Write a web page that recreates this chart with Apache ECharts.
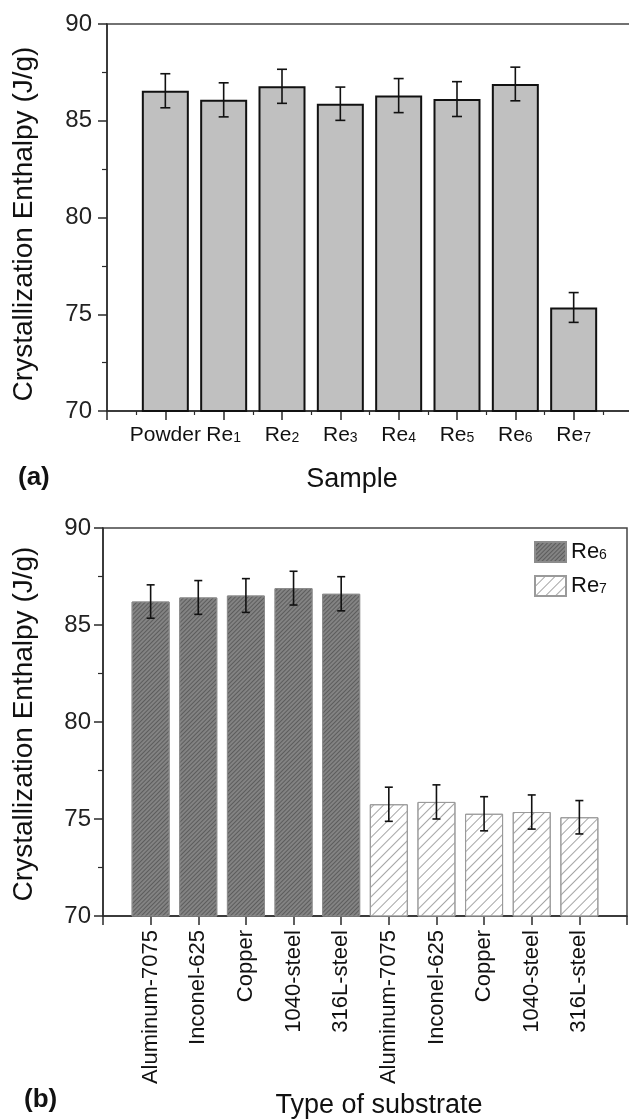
<!DOCTYPE html>
<html>
<head>
<meta charset="utf-8">
<script src="https://cdn.jsdelivr.net/npm/echarts@6/dist/echarts.min.js"></script>
<style>
  html, body { margin: 0; padding: 0; background: #ffffff; overflow: hidden; }
  #chart { width: 629px; height: 1119px; }
</style>
</head>
<body>
<div id="chart"></div>
<script>
// ---------- data: panel (a) ----------
const sampleNames = ['Powder', 'Re1', 'Re2', 'Re3', 'Re4', 'Re5', 'Re6', 'Re7'];
const sampleValues = [86.55, 86.08, 86.78, 85.88, 86.30, 86.12, 86.90, 75.35];
const sampleErrors = [0.88, 0.88, 0.88, 0.86, 0.88, 0.90, 0.87, 0.77];

// ---------- data: panel (b) ----------
const substrates = ['Aluminum-7075', 'Inconel-625', 'Copper', '1040-steel', '316L-steel'];
const re6Values = [86.21, 86.42, 86.52, 86.90, 86.61];
const re6Errors = [0.86, 0.87, 0.87, 0.87, 0.88];
const re7Values = [75.76, 75.88, 75.27, 75.36, 75.09];
const re7Errors = [0.88, 0.88, 0.88, 0.88, 0.86];
const seriesNames = ['Re6', 'Re7'];

// ---------- axis ticks ----------
const yMin = 70, yMax = 90, yStep = 5;

const FONT = '"Liberation Sans", Arial, sans-serif';
const AX = '#2a2a2a';
const subRich = { s: { fontSize: 14, fontFamily: FONT, color: '#111', verticalAlign: 'bottom', padding: [0, 0, 1, 0] } };
function subFmt(name) { return String(name).replace(/^Re(\d)$/, 'Re{s|$1}'); }

function errRender(cap) {
  return function (params, api) {
    const x = api.value(0), v = api.value(1), e = api.value(2);
    const hi = api.coord([x, v + e]);
    const lo = api.coord([x, v - e]);
    const st = { stroke: '#111', lineWidth: 1.6 };
    return {
      type: 'group',
      children: [
        { type: 'line', shape: { x1: hi[0], y1: hi[1], x2: lo[0], y2: lo[1] }, style: st },
        { type: 'line', shape: { x1: hi[0] - cap, y1: hi[1], x2: hi[0] + cap, y2: hi[1] }, style: st },
        { type: 'line', shape: { x1: lo[0] - cap, y1: lo[1], x2: lo[0] + cap, y2: lo[1] }, style: st }
      ]
    };
  };
}

const topData = sampleValues.map((v, i) => [i + 1, v]);
const topErr = sampleValues.map((v, i) => [i + 1, v, sampleErrors[i]]);
const re6Data = re6Values.map((v, i) => [i + 1, v]);
const re7Data = re7Values.map((v, i) => [i + 6, v]);
const re6Err = re6Values.map((v, i) => [i + 1, v, re6Errors[i]]);
const re7Err = re7Values.map((v, i) => [i + 6, v, re7Errors[i]]);

function yAxisCfg(gi, margin) {
  return {
    gridIndex: gi, type: 'value', min: yMin, max: yMax, interval: yStep,
    axisLine: { show: true, lineStyle: { color: AX, width: 1.5 } },
    axisTick: { show: true, length: 9, lineStyle: { color: AX, width: 1.5 } },
    minorTick: { show: true, splitNumber: 2, length: 5, lineStyle: { color: AX, width: 1.2 } },
    splitLine: { show: false }, minorSplitLine: { show: false },
    axisLabel: { fontSize: 24, fontFamily: FONT, color: '#222', margin: margin }
  };
}

const chart = echarts.init(document.getElementById('chart'), null, { renderer: 'canvas' });
chart.setOption({
  animation: false,
  backgroundColor: '#ffffff',
  grid: [
    { left: 107, top: 24, width: 525, height: 387, outerBoundsMode: 'none', containLabel: false, show: true, borderColor: '#444', borderWidth: 1.5, backgroundColor: 'transparent' },
    { left: 103, top: 528, width: 524, height: 388, outerBoundsMode: 'none', containLabel: false, show: true, borderColor: '#444', borderWidth: 1.5, backgroundColor: 'transparent' }
  ],
  xAxis: [
    {
      gridIndex: 0, type: 'value', min: 0, max: sampleNames.length + 1, interval: 1,
      axisLine: { show: true, onZero: false, lineStyle: { color: AX, width: 1.5 } },
      axisTick: { show: true, length: 9, lineStyle: { color: AX, width: 1.5 } },
      minorTick: { show: true, splitNumber: 2, length: 4, lineStyle: { color: AX, width: 1.2 } },
      splitLine: { show: false }, minorSplitLine: { show: false },
      axisLabel: {
        fontSize: 21, fontFamily: FONT, color: '#111', margin: 14, rich: subRich,
        formatter: function (v) { const n = sampleNames[v - 1]; return n ? subFmt(n) : ''; }
      }
    },
    {
      gridIndex: 1, type: 'value', min: 0, max: substrates.length * 2 + 1, interval: 1,
      axisLine: { show: true, onZero: false, lineStyle: { color: AX, width: 1.5 } },
      axisTick: { show: true, length: 9, lineStyle: { color: AX, width: 1.5 } },
      splitLine: { show: false },
      axisLabel: {
        fontSize: 22, fontFamily: FONT, color: '#111', margin: 14, rotate: 90,
        formatter: function (v) { if (v < 1 || v > substrates.length * 2) return ''; return substrates[(v - 1) % substrates.length]; }
      }
    }
  ],
  yAxis: [yAxisCfg(0, 15), yAxisCfg(1, 12)],
  legend: {
    data: seriesNames, orient: 'vertical', left: 534, top: 541, padding: 0,
    itemWidth: 31, itemHeight: 20, itemGap: 12, icon: 'rect',
    formatter: subFmt,
    textStyle: { fontSize: 22, fontFamily: FONT, color: '#111', rich: subRich }
  },
  series: [
    {
      type: 'bar', name: 'Panel a', xAxisIndex: 0, yAxisIndex: 0, data: topData, barWidth: 47, silent: true,
      itemStyle: { color: '#c0c0c0', borderColor: '#111', borderWidth: 2 }
    },
    {
      type: 'custom', xAxisIndex: 0, yAxisIndex: 0, data: topErr, encode: { x: 0, y: 1 },
      renderItem: errRender(5), z: 10, silent: true
    },
    {
      type: 'bar', name: seriesNames[0], xAxisIndex: 1, yAxisIndex: 1, data: re6Data, barWidth: 38, barGap: '-100%', silent: true,
      itemStyle: {
        color: '#838383', borderColor: '#8c8c8c', borderWidth: 1,
        decal: { symbol: 'rect', symbolSize: 1, dashArrayX: [1, 0], dashArrayY: [1, 2], rotation: -Math.PI / 4, color: '#5c5c5c' }
      }
    },
    {
      type: 'bar', name: seriesNames[1], xAxisIndex: 1, yAxisIndex: 1, data: re7Data, barWidth: 38, barGap: '-100%', silent: true,
      itemStyle: {
        color: '#ffffff', borderColor: '#9a9a9a', borderWidth: 1,
        decal: { symbol: 'rect', symbolSize: 1, dashArrayX: [1, 0], dashArrayY: [1, 6], rotation: -Math.PI / 4, color: '#a5a5a5' }
      }
    },
    {
      type: 'custom', xAxisIndex: 1, yAxisIndex: 1, data: re6Err, encode: { x: 0, y: 1 },
      renderItem: errRender(4), z: 10, silent: true
    },
    {
      type: 'custom', xAxisIndex: 1, yAxisIndex: 1, data: re7Err, encode: { x: 0, y: 1 },
      renderItem: errRender(4), z: 10, silent: true
    }
  ],
  graphic: [
    { type: 'text', x: 24, y: 224, rotation: Math.PI / 2, style: { text: 'Crystallization Enthalpy (J/g)', fontSize: 28, fontFamily: FONT, fill: '#111', align: 'center', verticalAlign: 'middle' } },
    { type: 'text', x: 352, y: 480, style: { text: 'Sample', fontSize: 27, fontFamily: FONT, fill: '#111', align: 'center', verticalAlign: 'middle' } },
    { type: 'text', x: 18, y: 478, style: { text: '(a)', fontSize: 26, fontWeight: 'bold', fontFamily: FONT, fill: '#111', align: 'left', verticalAlign: 'middle' } },
    { type: 'text', x: 24, y: 724, rotation: Math.PI / 2, style: { text: 'Crystallization Enthalpy (J/g)', fontSize: 28, fontFamily: FONT, fill: '#111', align: 'center', verticalAlign: 'middle' } },
    { type: 'text', x: 379, y: 1106, style: { text: 'Type of substrate', fontSize: 27, fontFamily: FONT, fill: '#111', align: 'center', verticalAlign: 'middle' } },
    { type: 'text', x: 24, y: 1100, style: { text: '(b)', fontSize: 26, fontWeight: 'bold', fontFamily: FONT, fill: '#111', align: 'left', verticalAlign: 'middle' } }
  ]
});
</script>
</body>
</html>
